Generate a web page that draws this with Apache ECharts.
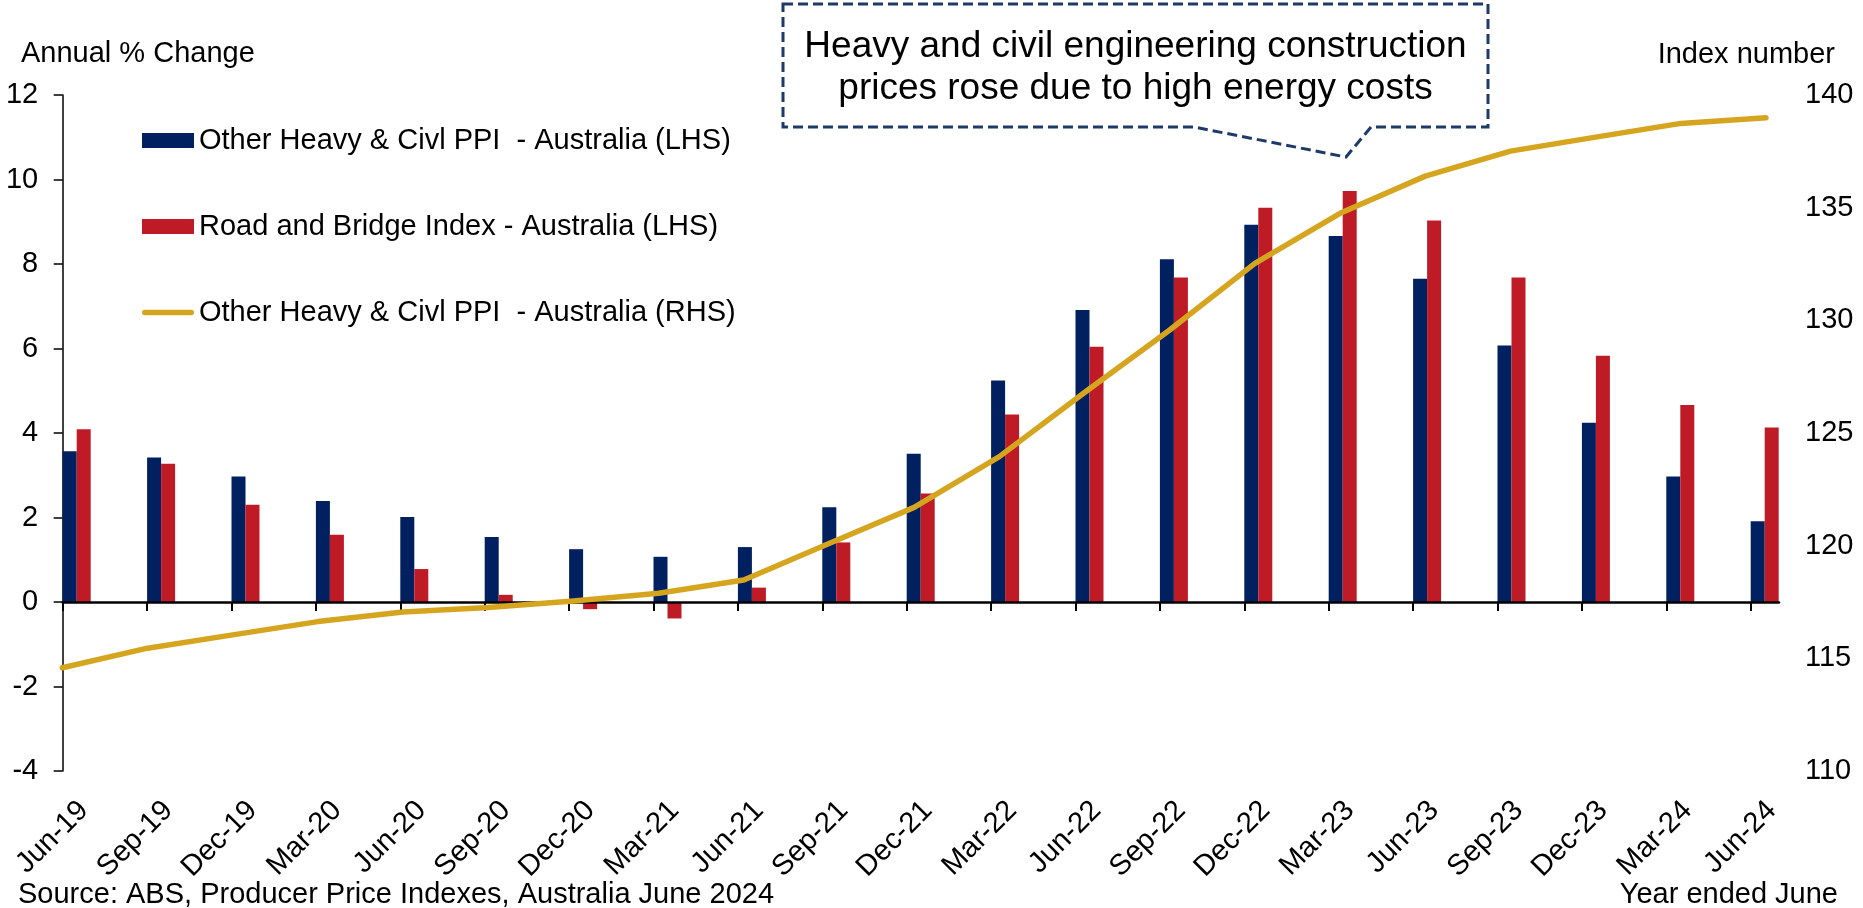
<!DOCTYPE html>
<html>
<head>
<meta charset="utf-8">
<title>Heavy and civil engineering construction prices</title>
<script src="https://cdn.jsdelivr.net/npm/echarts@6/dist/echarts.min.js"></script>
<style>
  html, body { margin: 0; padding: 0; background: #fff; }
  #chart { width: 1863px; height: 908px; }
</style>
</head>
<body>
<div id="chart"></div>
<script>
// Quarterly observations, June 2019 to June 2024
const categories = ['Jun-19', 'Sep-19', 'Dec-19', 'Mar-20', 'Jun-20', 'Sep-20', 'Dec-20',
  'Mar-21', 'Jun-21', 'Sep-21', 'Dec-21', 'Mar-22', 'Jun-22', 'Sep-22', 'Dec-22',
  'Mar-23', 'Jun-23', 'Sep-23', 'Dec-23', 'Mar-24', 'Jun-24'];

// Annual % change (left axis)
const heavyCivilPct = [3.57, 3.42, 2.97, 2.39, 2.01, 1.54, 1.25, 1.07, 1.30, 2.24, 3.51,
  5.24, 6.91, 8.11, 8.93, 8.66, 7.65, 6.07, 4.24, 2.97, 1.91];
const roadBridgePct = [4.09, 3.27, 2.30, 1.59, 0.78, 0.17, -0.17, -0.39, 0.34, 1.41, 2.57,
  4.44, 6.04, 7.68, 9.33, 9.73, 9.03, 7.68, 5.83, 4.66, 4.13];

// Index number (right axis)
const heavyCivilIndex = [114.58, 115.45, 116.04, 116.63, 117.06, 117.26, 117.54, 117.89,
  118.48, 120.10, 121.70, 123.95, 126.80, 129.57, 132.53, 134.75, 136.40, 137.51,
  138.13, 138.74, 138.99];

// Axis ranges
const lhsRange = [-4, 12];
const lhsStep = 2;
const rhsRange = [110, 140];
const rhsStep = 5;

const NAME_HC = 'Other Heavy & Civl PPI  - Australia (LHS)';
const NAME_RB = 'Road and Bridge Index - Australia (LHS)';
const NAME_IDX = 'Other Heavy & Civl PPI  - Australia (RHS)';

// ---- layout / style ----
const FONT = "'Liberation Sans', Arial, Helvetica, sans-serif";
const NAVY = '#00205F';
const RED = '#BF1B27';
const GOLD = '#D6A520';
const BOX_BLUE = '#1F3A68';

const PLOT_TOP = 95;
const PLOT_HEIGHT = 676;
const STEP = 84.4;               // px between quarter ticks
const AXIS_LEFT = 62.7;          // left axis / first tick
const AXIS_RIGHT = 1779;         // end of the category axis line
const BAR_W = 14;
// bar pairs start at each tick, so band centres sit one bar width right of it
const BAR_LEFT = AXIS_LEFT + BAR_W - STEP / 2;
const LINE_LEFT = 62.3;
const LINE_RIGHT = 1766;
const LABEL_SHIFT = 0.25;        // rotated labels sit a little right of their tick

const tickIdx = categories.map((_, i) => i);
const axisSpan = (AXIS_RIGHT - AXIS_LEFT) / STEP;

const LINE_ICON = 'path://M0,0M52,15M2.75,4.75H49.25A2.75,2.75,0,0,1,49.25,10.25H2.75A2.75,2.75,0,0,1,2.75,4.75Z';

const labelText = { fontSize: 29, color: '#000', fontFamily: FONT };

const chart = echarts.init(document.getElementById('chart'), null, { renderer: 'canvas' });

const option = {
  animation: false,
  backgroundColor: '#fff',
  textStyle: { fontFamily: FONT },
  grid: [
    { left: BAR_LEFT, top: PLOT_TOP, width: STEP * categories.length, height: PLOT_HEIGHT,
      containLabel: false, outerBoundsMode: 'none' },
    { left: AXIS_LEFT, top: PLOT_TOP, width: AXIS_RIGHT - AXIS_LEFT, height: PLOT_HEIGHT,
      containLabel: false, outerBoundsMode: 'none' },
    { left: LINE_LEFT, top: PLOT_TOP, width: LINE_RIGHT - LINE_LEFT, height: PLOT_HEIGHT,
      containLabel: false, outerBoundsMode: 'none' }
  ],
  xAxis: [
    // bars
    { gridIndex: 0, type: 'category', data: categories, boundaryGap: true, show: false },
    // visible axis line and ticks, drawn at zero
    { gridIndex: 1, type: 'value', position: 'bottom', min: 0, max: axisSpan, interval: 1, z: 3,
      axisLine: { show: true, onZero: true, lineStyle: { color: '#000', width: 2.5 } },
      axisTick: { show: true, inside: false, length: 9, customValues: tickIdx,
        lineStyle: { color: '#000', width: 2 } },
      axisLabel: { show: false }, splitLine: { show: false } },
    // quarter labels along the bottom
    { gridIndex: 1, type: 'value', position: 'bottom', min: -LABEL_SHIFT, max: axisSpan - LABEL_SHIFT,
      axisLine: { show: false, onZero: false }, axisTick: { show: false }, splitLine: { show: false },
      axisLabel: Object.assign({ show: true, customValues: tickIdx, rotate: 45, margin: 35,
        hideOverlap: false, formatter: v => (categories[v] !== undefined ? categories[v] : '') }, labelText) },
    // index line
    { gridIndex: 2, type: 'category', data: categories, boundaryGap: false, show: false }
  ],
  yAxis: [
    { gridIndex: 0, type: 'value', min: lhsRange[0], max: lhsRange[1], show: false },
    { gridIndex: 1, type: 'value', min: lhsRange[0], max: lhsRange[1], interval: lhsStep,
      axisLine: { show: true, lineStyle: { color: '#000', width: 1.5 } },
      axisTick: { show: true, inside: false, length: 9, lineStyle: { color: '#000', width: 1.5 } },
      axisLabel: Object.assign({ margin: 24.5 }, labelText),
      splitLine: { show: false } },
    { gridIndex: 2, type: 'value', position: 'right', min: rhsRange[0], max: rhsRange[1], interval: rhsStep,
      axisLine: { show: false }, axisTick: { show: false },
      axisLabel: Object.assign({ margin: 39 }, labelText),
      splitLine: { show: false } }
  ],
  legend: {
    orient: 'vertical', left: 137, top: 121,
    itemWidth: 52, itemHeight: 15, itemGap: 57,
    symbolKeepAspect: false, selectedMode: false,
    textStyle: labelText,
    data: [
      { name: NAME_HC, icon: 'rect' },
      { name: NAME_RB, icon: 'rect' },
      { name: NAME_IDX, icon: LINE_ICON }
    ]
  },
  series: [
    { type: 'bar', name: NAME_HC, xAxisIndex: 0, yAxisIndex: 0, data: heavyCivilPct,
      barWidth: BAR_W, barGap: '0%', itemStyle: { color: NAVY }, z: 2 },
    { type: 'bar', name: NAME_RB, xAxisIndex: 0, yAxisIndex: 0, data: roadBridgePct,
      barWidth: BAR_W, barGap: '0%', itemStyle: { color: RED }, z: 2 },
    { type: 'line', name: NAME_IDX, xAxisIndex: 3, yAxisIndex: 2, data: heavyCivilIndex,
      symbol: 'none', showSymbol: false, z: 4,
      lineStyle: { color: GOLD, width: 5.5, cap: 'round', join: 'round' },
      itemStyle: { color: GOLD } }
  ],
  graphic: [
    { type: 'text', x: 21, y: 54, z: 10,
      style: { text: 'Annual % Change', fontSize: 29, fontFamily: FONT, fill: '#000',
        align: 'left', verticalAlign: 'middle' } },
    { type: 'text', x: 1835, y: 55, z: 10,
      style: { text: 'Index number', fontSize: 29, fontFamily: FONT, fill: '#000',
        align: 'right', verticalAlign: 'middle' } },
    { type: 'text', x: 18, y: 895, z: 10,
      style: { text: 'Source: ABS, Producer Price Indexes, Australia June 2024', fontSize: 29,
        fontFamily: FONT, fill: '#000', align: 'left', verticalAlign: 'middle' } },
    { type: 'text', x: 1838, y: 895, z: 10,
      style: { text: 'Year ended June', fontSize: 29, fontFamily: FONT, fill: '#000',
        align: 'right', verticalAlign: 'middle' } },
    // callout box
    { type: 'polygon', z: 10,
      shape: { points: [[783, 4], [1488, 4], [1488, 127], [1371, 127], [1346, 157], [1194, 127], [783, 127]] },
      style: { fill: '#fff', stroke: BOX_BLUE, lineWidth: 3, lineDash: [10, 5] } },
    { type: 'text', x: 1135.5, y: 68, z: 11,
      style: { text: 'Heavy and civil engineering construction\nprices rose due to high energy costs',
        fontSize: 37, lineHeight: 42.5, fontFamily: FONT, fill: '#000',
        align: 'center', verticalAlign: 'middle' } }
  ]
};

chart.setOption(option);
</script>
</body>
</html>
